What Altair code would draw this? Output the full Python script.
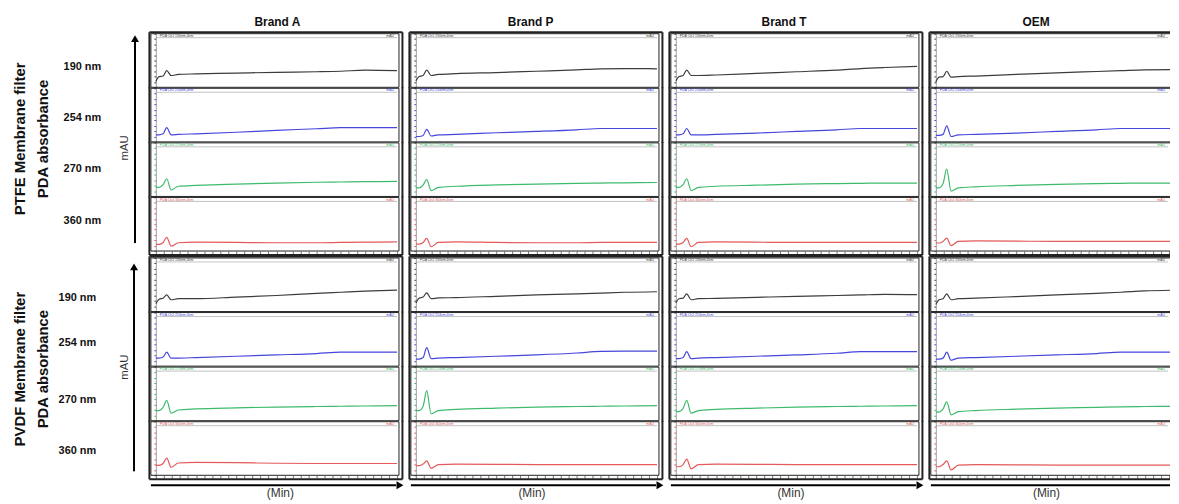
import altair as alt
import pandas as pd

# ---------------- data ----------------
BRANDS = ["Brand A", "Brand P", "Brand T", "OEM"]
FILTER_LABELS = ["PTFE Membrane filter", "PVDF Membrane filter"]
WAVELENGTHS = ["190 nm", "254 nm", "270 nm", "360 nm"]
TRACE_COLORS = ["#3c3c3c", "#4646dc", "#3dbb6c", "#e4595a"]
TIME_MIN = [0, 0.4, 0.9, 1.35, 1.9, 2.8, 5, 10, 15, 20, 23, 26, 30]

# values: % of lane height (mAU, relative), one list per brand (A, P, T, OEM)
PTFE_190 = [
    [11, 20, 21, 31, 22, 24, 25, 26.5, 28, 29, 30, 32, 31],
    [12, 20, 22, 32, 22, 24, 25.5, 27.5, 30, 32.5, 34.5, 35, 34.5],
    [12, 20, 22, 32, 22, 22, 23, 26, 29, 32, 35, 37, 39],
    [10, 19, 20, 30, 19, 20, 21, 24, 27, 29.5, 31, 32.5, 33],
]
PTFE_254 = [
    [13, 13, 15, 26.5, 13, 14, 15, 18, 21.5, 24.5, 26.5, 26.5, 26.5],
    [10, 10, 12, 23.5, 11, 13, 14, 17, 19.5, 22.5, 25, 25, 25],
    [13, 13, 15, 25, 13, 13, 14, 16.5, 19.5, 22.5, 25, 25, 25],
    [12, 12, 14, 30, 10, 13, 14, 16.5, 19.5, 22.5, 25, 25, 25],
]
PTFE_270 = [
    [17, 17, 22, 33, 12, 19, 20.5, 23, 25, 26.5, 27, 27.5, 28],
    [16, 16, 21, 31.5, 11, 17, 19, 21.5, 23, 24.5, 25, 25.5, 26],
    [17, 17, 22, 33, 11, 17, 19, 21, 23, 24, 24.5, 25, 25],
    [16, 16, 24, 51, 10, 16, 18, 20.5, 22.5, 24, 24.5, 25, 25],
]
PTFE_360 = [
    [12.5, 12.5, 16, 25.5, 9, 15.5, 16.5, 16, 15.5, 15.5, 16, 16.5, 17],
    [13, 13, 16, 23.5, 8, 16, 17, 16, 15.5, 15.5, 16, 16, 16],
    [13, 13, 16, 23.5, 8, 16, 17, 16.5, 16, 16, 16, 16, 16],
    [15, 15, 18, 24, 10, 18, 19, 18.5, 18, 18, 18, 18, 18],
]
PVDF_190 = [
    [14.5, 23, 25, 31, 22, 24, 24, 27, 30, 34, 36, 38, 40],
    [16, 25, 27, 35, 24, 25.5, 26, 28.5, 31, 33, 34.5, 36, 37],
    [16, 24, 25, 33, 22, 24, 24.5, 26.5, 28.5, 30, 31, 32, 31.5],
    [13, 22, 24, 33, 22, 24, 25, 28, 31, 34, 36, 38.5, 40],
]
PVDF_254 = [
    [15, 15, 17, 26, 15, 15, 16, 18.5, 21, 23.5, 26, 26, 26],
    [13, 13, 16, 34.5, 14, 15, 16, 18.5, 21, 24.5, 27.5, 28, 28],
    [14, 14, 16, 27, 14, 15, 16, 18.5, 21, 24, 27, 27, 27],
    [13, 13, 15, 26, 11, 15, 16, 18.5, 21, 23.5, 26, 26, 26],
]
PVDF_270 = [
    [19, 19, 25, 38, 14, 20, 22, 24, 25.5, 26.5, 27, 27.5, 28],
    [19, 19, 27, 56, 13, 19, 21, 23.5, 25.5, 26.5, 27, 27.5, 28],
    [17, 17, 23, 38, 14, 19, 21, 23.5, 25.5, 26.5, 27, 27.5, 28],
    [16, 16, 22, 35, 11, 17, 19, 21.5, 23.5, 25, 26, 26.5, 27],
]
PVDF_360 = [
    [18.5, 18.5, 22, 32, 15, 23, 24, 23.5, 22.5, 22, 22, 22, 22],
    [18, 18, 21, 27, 13, 20, 21, 20.5, 20, 20, 20, 20, 20],
    [16, 16, 20, 30, 12, 20, 21, 20.5, 20, 20, 20, 20, 20],
    [16, 16, 20, 27, 10, 19, 20, 19.5, 19, 19, 19, 19, 19],
]
SERIES = [
    [PTFE_190, PTFE_254, PTFE_270, PTFE_360],
    [PVDF_190, PVDF_254, PVDF_270, PVDF_360],
]

# ---------------- layout / style ----------------
LANE_W = [250, 250, 250, 241]
LANE_H = 54
COL0_W = 132
HEADER_H = 23
SPACER_H = 5
ARROW_H = 24
X_MIN = -0.62
MIN_PER_PX = 30.864 / 250
HEADER_X = [127.5, 120.7, 114, 106]
MIN_X = [130.5, 122, 121, 116.5]
NM_X = [56, 51]
NM_Y = [[34, 30, 26, 24], [40, 31, 33, 30]]
BIG_Y = [106, 112]
MAU_Y = [115, 110]
ARROW_X = [128, 127]
ARROW_TIP = [1, 5]
ARROW_END = [211, 215]
FRAME = "#222222"

one = pd.DataFrame({"k": [0]})


def hrule(x1, x2, y, color=FRAME, w=1.0):
    return alt.Chart(one).mark_rule(color=color, strokeWidth=w).encode(
        x=alt.value(x1), x2=alt.value(x2), y=alt.value(y))


def vrule(x, y1, y2, color=FRAME, w=1.0):
    return alt.Chart(one).mark_rule(color=color, strokeWidth=w).encode(
        x=alt.value(x), y=alt.value(y1), y2=alt.value(y2))


def text(t, x, y, size=11, weight="normal", align="left", color="#111", angle=0):
    kw = dict(text=t, fontSize=size, fontWeight=weight, align=align,
              baseline="middle", color=color, font="Liberation Sans")
    if angle:
        kw["angle"] = angle
    return alt.Chart(one).mark_text(**kw).encode(x=alt.value(x), y=alt.value(y))


def empty(w, h):
    return alt.Chart(one).mark_text(text="", fontSize=1).encode(
        x=alt.value(w / 2), y=alt.value(h / 2)).properties(width=w, height=h)


def lane(fi, wi, ci):
    W, H = LANE_W[ci], LANE_H
    color = TRACE_COLORS[wi]
    df = pd.DataFrame({"time": TIME_MIN, "mAU": SERIES[fi][wi][ci]})
    xmax = X_MIN + MIN_PER_PX * W
    if wi == 3:
        x_axis = alt.Axis(orient="bottom", labels=False, domain=False, ticks=True,
                          tickCount=40, tickSize=3, tickColor="#555", tickWidth=0.8,
                          grid=False, title=None)
    else:
        x_axis = None
    line = alt.Chart(df).mark_line(
        color=color, strokeWidth=1.2, interpolate="monotone", clip=True
    ).encode(
        x=alt.X("time:Q", scale=alt.Scale(domain=[X_MIN, xmax], nice=False, zero=False),
                axis=x_axis),
        y=alt.Y("mAU:Q", scale=alt.Scale(domain=[0, 100], nice=False),
                axis=alt.Axis(orient="left", offset=-5, labels=False, title=None,
                              grid=False, ticks=True, tickCount=10, tickSize=2,
                              tickColor=color, domainColor="#888", domainWidth=0.8)),
    )
    layers = [line,
              hrule(0, W, 0), hrule(0, W, H), vrule(0, 0, H),
              hrule(5, W - 2, 4, color="#9a9a9a", w=0.6),
              text("PDA Ch%d %s,4nm" % (wi + 1, WAVELENGTHS[wi].replace(" ", "")),
                   9, 2.2, size=3.5, color=color),
              text("mAU", W - 5, 2.2, size=3.5, align="right", color=color)]
    right = ci < 3
    if right:
        layers.append(vrule(W, 0, H))
    # panel outer frame
    top = -1.5 if wi == 0 else -1
    bot = H + 4 if wi == 3 else H + 1
    layers.append(vrule(-1.5, top, bot, w=2))
    if right:
        layers.append(vrule(W + 3.5, top, bot, w=2))
    if wi == 0:
        layers.append(hrule(-1.5, W + 3.5 if right else W, -1.5, w=2))
    if wi == 3:
        layers.append(hrule(-1.5, W + 3.5 if right else W, H + 4, w=2))
    return alt.layer(*layers).properties(width=W, height=H)


def left_cell(fi, wi):
    layers = [text(WAVELENGTHS[wi], NM_X[fi], NM_Y[fi][wi], size=11, weight="bold")]
    if wi == 0:
        a = ARROW_X[fi]
        layers += [
            text(FILTER_LABELS[fi], 12, BIG_Y[fi], size=15, weight="bold",
                 align="center", angle=270),
            text("PDA absorbance", 35, BIG_Y[fi], size=15, weight="bold",
                 align="center", angle=270),
            text("mAU", 118, MAU_Y[fi], size=11.5, align="center", color="#333",
                 angle=270),
            vrule(a, ARROW_TIP[fi] + 6, ARROW_END[fi], color="#000", w=2),
            alt.Chart(one).mark_point(shape="triangle-up", filled=True, size=64,
                                      color="#000", opacity=1).encode(
                x=alt.value(a), y=alt.value(ARROW_TIP[fi] + 4)),
        ]
    return alt.layer(*layers).properties(width=COL0_W, height=LANE_H)


def header_cell(ci):
    return text(BRANDS[ci], HEADER_X[ci], 12, size=12, weight="bold",
                align="center").properties(width=LANE_W[ci], height=HEADER_H)


def arrow_cell(ci):
    W = LANE_W[ci]
    layers = [hrule(0, W if ci == 3 else W - 3, 9, color="#000", w=2),
              text("(Min)", MIN_X[ci], 16.5, size=12, align="center", color="#333")]
    if ci < 3:
        layers.append(alt.Chart(one).mark_point(
            shape="triangle-right", filled=True, size=64, color="#000", opacity=1
        ).encode(x=alt.value(W + 1), y=alt.value(9)))
    return alt.layer(*layers).properties(width=W, height=ARROW_H)


cells = [empty(COL0_W, HEADER_H)] + [header_cell(c) for c in range(4)]
for fi in range(2):
    for wi in range(4):
        cells.append(left_cell(fi, wi))
        cells += [lane(fi, wi, c) for c in range(4)]
    if fi == 0:
        cells.append(empty(COL0_W, SPACER_H))
        cells += [empty(LANE_W[c], SPACER_H) for c in range(4)]
cells.append(empty(COL0_W, ARROW_H))
cells += [arrow_cell(c) for c in range(4)]

chart = alt.concat(
    *cells, columns=5, spacing={"row": 1, "column": 12}, bounds="flush"
).properties(padding=0).configure(
    font="Liberation Sans", view=alt.ViewConfig(stroke=None)
)

chart.save("out.html", embed_options={"renderer": "svg", "actions": False})
